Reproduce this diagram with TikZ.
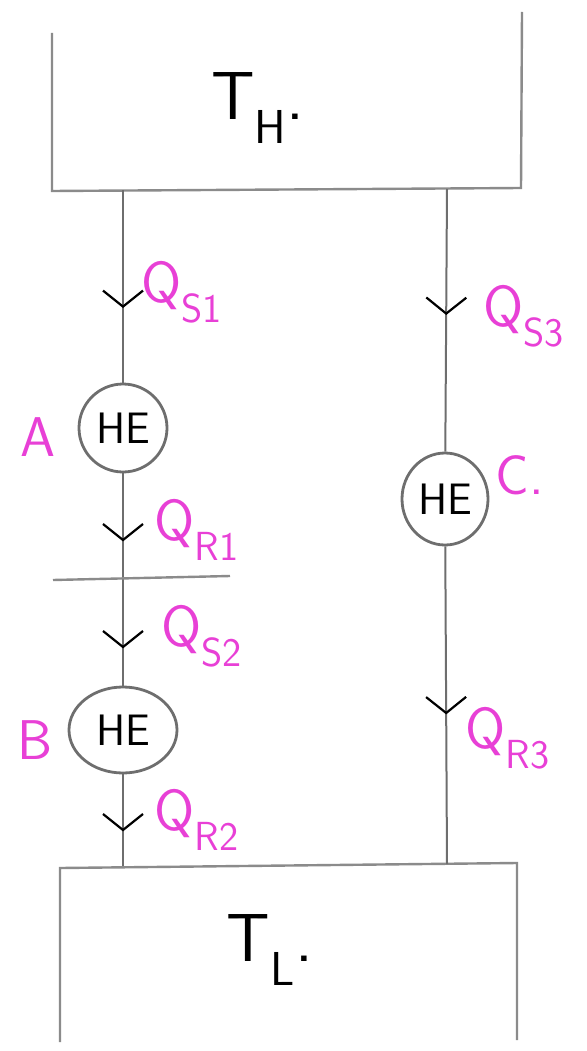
\documentclass[tikz,border=0pt]{standalone}
\usepackage{fontspec}
\usepackage{tikz}
\usetikzlibrary{
  arrows.meta,
  decorations.markings,
  shapes.geometric
}

\definecolor{pen}{RGB}{232,64,214}
\definecolor{pencil}{RGB}{110,110,110}

\begin{document}
\begin{tikzpicture}[
  x=1pt,
  y=-1pt,
  font=\sffamily,
  wall/.style={line width=2.4pt, pencil!80},
  flow/.style={line width=2pt, pencil},
  engine/.style={draw=pencil, line width=2.8pt, ellipse, inner sep=0pt,
    font=\sffamily\fontsize{44}{44}\selectfont},
  heat/.style={text=pen, anchor=west, font=\sffamily\fontsize{58}{58}\selectfont},
  tag/.style={text=pen, font=\sffamily\fontsize{56}{56}\selectfont},
  reservoir/.style={font=\sffamily\fontsize{68}{68}\selectfont},
  vmark/.style={postaction={decorate, decoration={markings,
    mark=at position #1 with {\arrow{Straight Barb[color=black,
      line width=2.2pt, length=16pt, width=40pt]}}}}}
]

  % Page frame.
  \useasboundingbox (0,0) rectangle (586,1051);

  % Hot reservoir, open at the top.
  \draw[wall] (52,33) -- (52,191) -- (521,188) -- (522,12);
  \node[reservoir] (hot) at (258,108) {T\textsubscript{H}.};

  % Cold reservoir, open at the bottom.
  \draw[wall] (60,1042) -- (60,868) -- (517,863) -- (517,1040);
  \node[reservoir] (cold) at (270,950) {T\textsubscript{L}.};

  % Where the lines meet the reservoirs.
  \coordinate (hotL) at (123,190);
  \coordinate (hotR) at (447,189);
  \coordinate (coldL) at (123,866);
  \coordinate (coldR) at (447,864);

  % Heat engines.
  \node[engine, minimum width=88pt, minimum height=88pt] (A) at (123,428) {HE};
  \node[engine, minimum width=108pt, minimum height=86pt] (B) at (123,730) {HE};
  \node[engine, minimum width=86pt, minimum height=92pt] (C) at (445,499) {HE};

  % Left branch: A then B in series.
  \draw[flow, vmark=118pt] (hotL) -- (A);
  \draw[flow, vmark=68pt, vmark=175pt] (A) -- (B);
  \draw[flow, vmark=57pt] (B) -- (coldL);
  \draw[wall] (53,580) -- (230,576);

  % Right branch: C alone.
  \draw[flow, vmark=126pt] (hotR) -- (C);
  \draw[flow, vmark=168pt] (C) -- (coldR);

  % Heat flow labels.
  \node[heat] (qs1) at (138,292) {Q\textsubscript{S1}};
  \node[heat] (qr1) at (151,530) {Q\textsubscript{R1}};
  \node[heat] (qs2) at (158,636) {Q\textsubscript{S2}};
  \node[heat] (qr2) at (151,820) {Q\textsubscript{R2}};
  \node[heat] (qs3) at (480,316) {Q\textsubscript{S3}};
  \node[heat] (qr3) at (462,738) {Q\textsubscript{R3}};

  % Engine names.
  \node[tag] (nameA) at (38,437) {A};
  \node[tag] (nameB) at (35,740) {B};
  \node[tag] (nameC) at (520,475) {C.};

\end{tikzpicture}
\end{document}
